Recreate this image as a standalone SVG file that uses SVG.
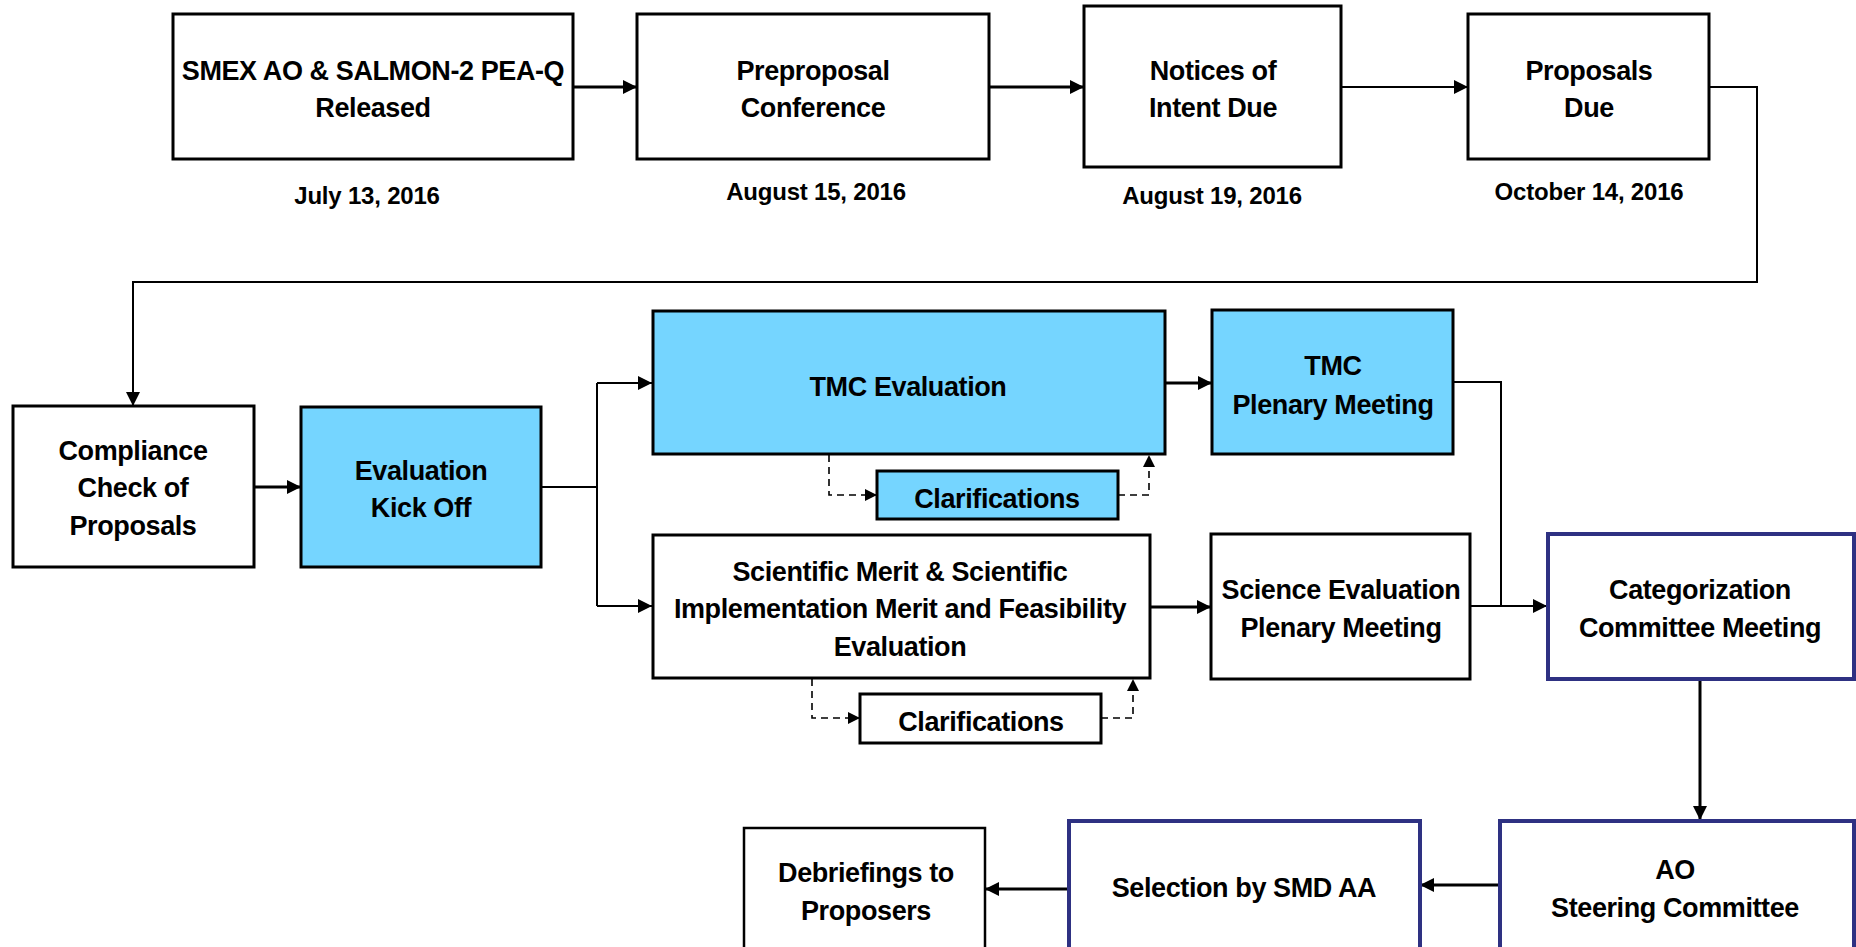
<svg xmlns="http://www.w3.org/2000/svg" width="1856" height="947" viewBox="0 0 1856 947">
<style>
.box{fill:#fff;stroke:#000;stroke-width:3}
.blue{fill:#75D5FF;stroke:#000;stroke-width:3}
.navy{fill:#fff;stroke:#2E3182;stroke-width:4}
.t{font-family:"Liberation Sans Narrow","Liberation Sans",Arial,sans-serif;font-weight:bold;font-size:27px;letter-spacing:-0.4px;text-anchor:middle;fill:#000}
.d{font-size:24px;letter-spacing:-0.2px}
.c{fill:none;stroke:#000;stroke-width:2}
.c3{fill:none;stroke:#000;stroke-width:3}
.dash{fill:none;stroke:#000;stroke-width:1.6;stroke-dasharray:7,5}
</style>
<defs>
<marker id="a" markerUnits="userSpaceOnUse" markerWidth="16" markerHeight="16" refX="14" refY="8" orient="auto">
<path d="M0,1 L14,8 L0,15 Z" fill="#000"/>
</marker>
<marker id="as" markerUnits="userSpaceOnUse" markerWidth="14" markerHeight="14" refX="12" refY="7" orient="auto">
<path d="M0,1 L12,7 L0,13 Z" fill="#000"/>
</marker>
</defs>
<rect width="1856" height="947" fill="#fff"/>

<g id="connectors">
<path class="c3" d="M573,87 H637" marker-end="url(#a)"/>
<path class="c3" d="M989,87 H1084" marker-end="url(#a)"/>
<path class="c" d="M1341,87 H1468" marker-end="url(#a)"/>
<path class="c" d="M1709,87 H1757 V282 H133 V406" marker-end="url(#a)"/>
<path class="c3" d="M254,487 H301" marker-end="url(#a)"/>
<path class="c" d="M541,487 H597"/>
<path class="c" d="M597,383 V606"/>
<path class="c" d="M597,383 H652" marker-end="url(#a)"/>
<path class="c" d="M597,606 H652" marker-end="url(#a)"/>
<path class="c3" d="M1165,383 H1212" marker-end="url(#a)"/>
<path class="c3" d="M1150,607 H1211" marker-end="url(#a)"/>
<path class="c" d="M1453,382 H1501 V606"/>
<path class="c" d="M1470,606 H1547" marker-end="url(#a)"/>
<path class="c3" d="M1700,681 V820" marker-end="url(#a)"/>
<path class="c3" d="M1500,885 H1420" marker-end="url(#a)"/>
<path class="c3" d="M1068,889 H985" marker-end="url(#a)"/>
<path class="dash" d="M829,455 V495 H877" marker-end="url(#as)"/>
<path class="dash" d="M1118,495 H1149 V455" marker-end="url(#as)"/>
<path class="dash" d="M812,679 V718 H860" marker-end="url(#as)"/>
<path class="dash" d="M1101,718 H1133 V679" marker-end="url(#as)"/>
</g>

<g id="smex">
<rect class="box" x="173" y="14" width="400" height="145"/>
<text class="t" x="373" y="80">SMEX AO &amp; SALMON-2 PEA-Q</text>
<text class="t" x="373" y="117">Released</text>
<text class="t d" x="367" y="204">July 13, 2016</text>
</g>
<g id="preproposal">
<rect class="box" x="637" y="14" width="352" height="145"/>
<text class="t" x="813" y="80">Preproposal</text>
<text class="t" x="813" y="117">Conference</text>
<text class="t d" x="816" y="200">August 15, 2016</text>
</g>
<g id="notices">
<rect class="box" x="1084" y="6" width="257" height="161"/>
<text class="t" x="1213" y="80">Notices of</text>
<text class="t" x="1213" y="117">Intent Due</text>
<text class="t d" x="1212" y="204">August 19, 2016</text>
</g>
<g id="proposals">
<rect class="box" x="1468" y="14" width="241" height="145"/>
<text class="t" x="1589" y="80">Proposals</text>
<text class="t" x="1589" y="117">Due</text>
<text class="t d" x="1589" y="200">October 14, 2016</text>
</g>
<g id="compliance">
<rect class="box" x="13" y="406" width="241" height="161"/>
<text class="t" x="133" y="460">Compliance</text>
<text class="t" x="133" y="497">Check of</text>
<text class="t" x="133" y="535">Proposals</text>
</g>
<g id="kickoff">
<rect class="blue" x="301" y="407" width="240" height="160"/>
<text class="t" x="421" y="480">Evaluation</text>
<text class="t" x="421" y="517">Kick Off</text>
</g>
<g id="tmc-eval">
<rect class="blue" x="653" y="311" width="512" height="143"/>
<text class="t" x="908" y="396">TMC Evaluation</text>
</g>
<g id="tmc-clar">
<rect class="blue" x="877" y="471" width="241" height="48"/>
<text class="t" x="997" y="508">Clarifications</text>
</g>
<g id="tmc-plenary">
<rect class="blue" x="1212" y="310" width="241" height="144"/>
<text class="t" x="1333" y="375">TMC</text>
<text class="t" x="1333" y="414">Plenary Meeting</text>
</g>
<g id="sci-merit">
<rect class="box" x="653" y="535" width="497" height="143"/>
<text class="t" x="900" y="581">Scientific Merit &amp; Scientific</text>
<text class="t" x="900" y="618">Implementation Merit and Feasibility</text>
<text class="t" x="900" y="656">Evaluation</text>
</g>
<g id="sci-clar">
<rect class="box" x="860" y="694" width="241" height="49"/>
<text class="t" x="981" y="731">Clarifications</text>
</g>
<g id="sci-plenary">
<rect class="box" x="1211" y="534" width="259" height="145"/>
<text class="t" x="1341" y="599">Science Evaluation</text>
<text class="t" x="1341" y="637">Plenary Meeting</text>
</g>
<g id="categorization">
<rect class="navy" x="1548" y="534" width="306" height="145"/>
<text class="t" x="1700" y="599">Categorization</text>
<text class="t" x="1700" y="637">Committee Meeting</text>
</g>
<g id="steering">
<rect class="navy" x="1500" y="821" width="354" height="140"/>
<text class="t" x="1675" y="879">AO</text>
<text class="t" x="1675" y="917">Steering Committee</text>
</g>
<g id="selection">
<rect class="navy" x="1069" y="821" width="351" height="140"/>
<text class="t" x="1244" y="897">Selection by SMD AA</text>
</g>
<g id="debriefings">
<rect class="box" x="744" y="828" width="241" height="140" style="stroke-width:2.5"/>
<text class="t" x="866" y="882">Debriefings to</text>
<text class="t" x="866" y="920">Proposers</text>
</g>
</svg>
